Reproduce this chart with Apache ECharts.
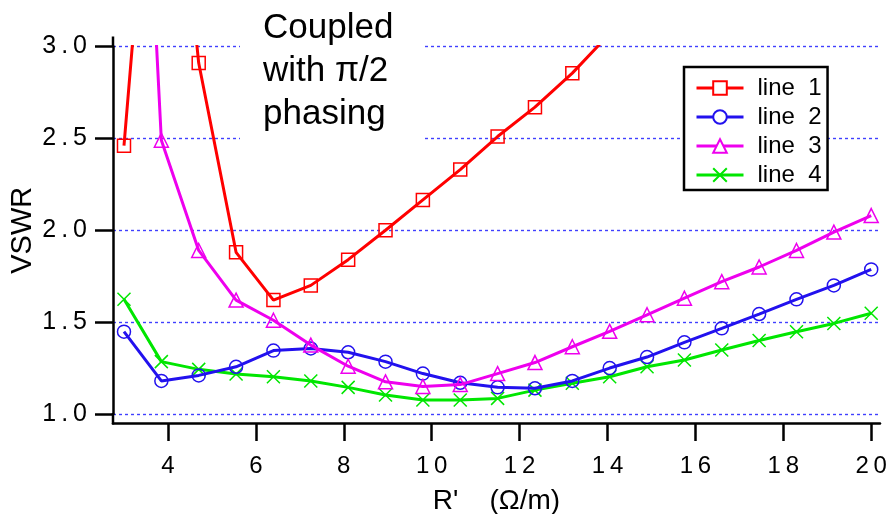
<!DOCTYPE html>
<html>
<head>
<meta charset="utf-8">
<script src="https://cdn.jsdelivr.net/npm/echarts@6/dist/echarts.min.js"></script>
<style>
  html, body { margin: 0; padding: 0; background: #fff; }
  #chart { width: 890px; height: 514px; }
</style>
</head>
<body>
<div id="chart"></div>
<script>
// R' values (Ω/m) shared by every trace
const rPrime = [3.0, 3.85, 4.7, 5.55, 6.4, 7.25, 8.1, 8.95, 9.8, 10.65, 11.5,
                12.35, 13.2, 14.05, 14.9, 15.75, 16.6, 17.45, 18.3, 19.15, 20.0];

// VSWR for each configuration (values above 3 run off the top of the plot)
const line1 = [2.46, 4.9, 2.91, 1.88, 1.62, 1.70, 1.84, 2.0, 2.165, 2.33, 2.51,
               2.67, 2.855, 3.07, null, null, null, null, null, null, null];
const line2 = [1.448, 1.18, 1.21, 1.257, 1.345, 1.357, 1.336, 1.285, 1.22, 1.17, 1.145,
               1.14, 1.18, 1.25, 1.31, 1.39, 1.466, 1.544, 1.624, 1.70, 1.787];
const line3 = [6.5, 2.49, 1.89, 1.62, 1.51, 1.375, 1.26, 1.175, 1.15, 1.16, 1.22,
               1.28, 1.366, 1.45, 1.54, 1.63, 1.72, 1.80, 1.89, 1.99, 2.08];
const line4 = [1.624, 1.285, 1.243, 1.218, 1.203, 1.18, 1.145, 1.103, 1.076, 1.076, 1.085,
               1.13, 1.167, 1.203, 1.257, 1.294, 1.348, 1.40, 1.448, 1.493, 1.548];

const seriesNames = ['line 1', 'line 2', 'line 3', 'line 4'];
const xTicks = [4, 6, 8, 10, 12, 14, 16, 18, 20];
const yTicks = [1.0, 1.5, 2.0, 2.5, 3.0];
const annotation = ['Coupled', 'with \u03C0/2', 'phasing'];

const FONT = '"Liberation Sans", Arial, Helvetica, sans-serif';
const spaced = s => s.split('').join('\u2009');

const traces = [
  { name: seriesNames[0], data: line1, color: '#ff0000', symbol: 'rect', size: 13 },
  { name: seriesNames[1], data: line2, color: '#2211ee', symbol: 'circle', size: 13 },
  { name: seriesNames[2], data: line3, color: '#ee00ee', symbol: 'triangle', size: 14 },
  { name: seriesNames[3], data: line4, color: '#00e600', symbol: 'path://M0,0L10,10M10,0L0,10', size: 13 }
];

const chart = echarts.init(document.getElementById('chart'), null, { renderer: 'canvas' });

chart.setOption({
  animation: false,
  backgroundColor: '#fff',
  textStyle: { fontFamily: FONT },
  grid: { left: 113, right: 10, top: 46.5, bottom: 100, containLabel: false, outerBoundsMode: 'none' },
  xAxis: {
    type: 'value',
    min: 2.75,
    max: 20.2,
    offset: 9,
    name: "R'    (\u03A9/m)",
    nameLocation: 'middle',
    nameGap: 64,
    nameMoveOverlap: false,
    nameTextStyle: { fontSize: 28, color: '#000', fontFamily: FONT },
    axisLine: { show: true, lineStyle: { color: '#000', width: 2.5 } },
    axisTick: { show: true, customValues: xTicks, length: 18, lineStyle: { color: '#000', width: 2.5 } },
    axisLabel: {
      customValues: xTicks,
      margin: 31,
      fontSize: 24,
      color: '#000',
      fontFamily: FONT,
      formatter: v => spaced(String(Math.round(v)))
    },
    splitLine: { show: false }
  },
  yAxis: {
    type: 'value',
    min: 1,
    max: 3,
    interval: 0.5,
    name: 'VSWR',
    nameLocation: 'middle',
    nameRotate: 90,
    nameGap: 76,
    nameMoveOverlap: false,
    nameTextStyle: { fontSize: 29, color: '#000', fontFamily: FONT },
    axisLine: { show: true, lineStyle: { color: '#000', width: 2.5 } },
    axisTick: { show: true, length: 18, lineStyle: { color: '#000', width: 2.5 } },
    axisLabel: {
      margin: 26,
      fontSize: 25,
      color: '#000',
      fontFamily: FONT,
      formatter: v => spaced(v.toFixed(1))
    },
    splitLine: { show: true, lineStyle: { color: '#4040ff', width: 1.4, type: [3, 3] } }
  },
  legend: {
    orient: 'vertical',
    left: 684,
    top: 67,
    padding: [9, 6, 3, 11],
    itemGap: 5,
    itemWidth: 47,
    itemHeight: 17,
    backgroundColor: '#fff',
    borderColor: '#000',
    borderWidth: 2.5,
    borderRadius: 0,
    data: seriesNames,
    itemStyle: { color: '#fff' },
    lineStyle: { width: 3 },
    textStyle: { fontSize: 24, color: '#000', fontFamily: FONT, lineHeight: 24, padding: [0, 0, 0, 9] },
    formatter: n => n.replace(' ', '  ')
  },
  graphic: [
    // upper and lower stubs of the left axis line
    { type: 'line', z: 10, shape: { x1: 113, y1: 36.5, x2: 113, y2: 47 }, style: { stroke: '#000', lineWidth: 2.5 } },
    { type: 'line', z: 10, shape: { x1: 113, y1: 413, x2: 113, y2: 424.5 }, style: { stroke: '#000', lineWidth: 2.5 } },
    // annotation box
    { type: 'rect', z: 5, shape: { x: 240, y: 0, width: 183, height: 148 }, style: { fill: '#fff' } },
    {
      type: 'text', z: 6, left: 263, top: 6.4,
      style: {
        text: annotation.join('\n'),
        font: '35px ' + FONT,
        lineHeight: 43.2,
        fill: '#000'
      }
    }
  ],
  series: traces.map((t, i) => ({
    type: 'line',
    name: t.name,
    data: rPrime.map((x, k) => [x, t.data[k]]),
    connectNulls: false,
    symbol: t.symbol,
    symbolSize: t.size,
    showAllSymbol: true,
    clip: true,
    z: 2 + (i === 2 ? 2 : i === 1 ? 1 : i === 0 ? 3 : 0),
    lineStyle: { color: t.color, width: 3 },
    itemStyle: { color: 'transparent', borderColor: t.color, borderWidth: 1.5 },
    emphasis: { disabled: true }
  }))
});
</script>
</body>
</html>
